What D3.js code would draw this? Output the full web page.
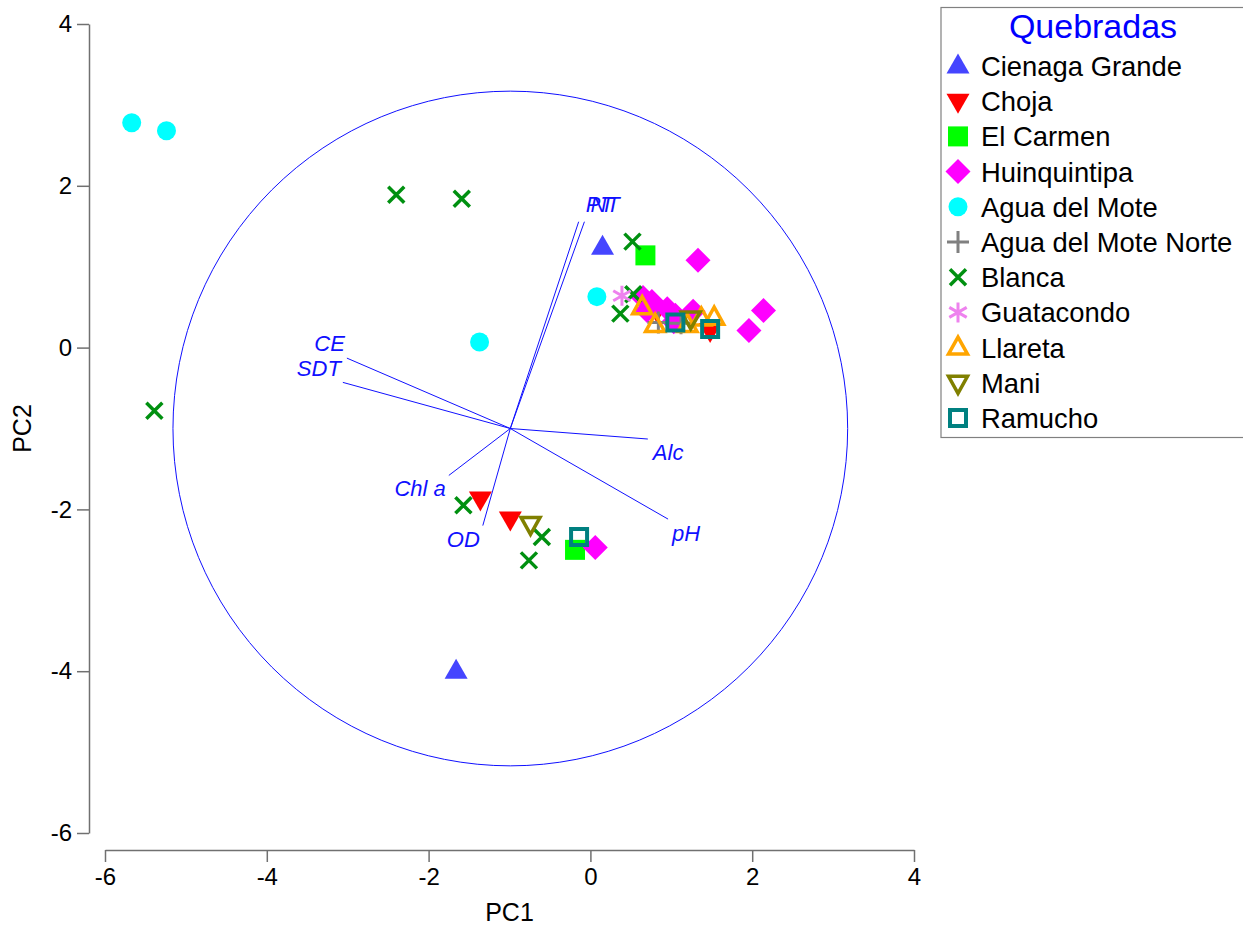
<!DOCTYPE html>
<html>
<head>
<meta charset="utf-8">
<script src="https://cdn.jsdelivr.net/npm/d3@7"></script>
<style>
  body { margin: 0; background: #fff; }
  svg { display: block; font-family: "Liberation Sans", Arial, sans-serif; }
</style>
</head>
<body>
<svg id="chart" width="1243" height="927"></svg>
<script>
// ---- Scores (PC1, PC2) per quebrada ----
const cienagaGrande = [[0.15, 1.24], [-1.66, -4.00]];
const choja = [[-1.36, -1.87], [-0.99, -2.12], [0.82, 0.46], [1.48, 0.21]];
const elCarmen = [[0.68, 1.14], [-0.19, -2.50]];
const huinquintipa = [[1.33, 1.08], [2.14, 0.46], [1.96, 0.21], [0.06, -2.47],
  [0.65, 0.62], [0.76, 0.57], [0.70, 0.46], [0.95, 0.48], [1.05, 0.40], [1.03, 0.32], [1.27, 0.45]];
const aguaDelMote = [[-5.67, 2.78], [-5.24, 2.68], [0.08, 0.63], [-1.37, 0.07]];
const aguaDelMoteNorte = [[0.84, 0.31], [1.12, 0.30]];
const blanca = [[-2.40, 1.89], [-1.59, 1.84], [-5.39, -0.78], [0.52, 1.31], [0.53, 0.66],
  [0.37, 0.42], [-1.57, -1.95], [-0.60, -2.34], [-0.76, -2.63]];
const guatacondo = [[0.39, 0.64]];
const llareta = [[0.64, 0.50], [0.80, 0.28], [1.20, 0.28], [1.37, 0.36], [1.53, 0.37]];
const mani = [[-0.74, -2.18], [1.24, 0.36]];
const ramucho = [[1.05, 0.31], [1.48, 0.23], [-0.14, -2.34]];

// ---- Variable loadings (vector tips) and the circle ----
const vectorNames = ["CE", "SDT", "Alc", "pH", "Chl a", "OD", "PT", "NT"];
const vectorTips = [[-3.01, -0.13], [-3.06, -0.43], [0.71, -1.13], [0.96, -2.12],
  [-1.75, -1.58], [-1.33, -2.20], [-0.145, 1.556], [-0.074, 1.556]];
const vectorOrigin = [-0.99, -1.0];
const circleRadius = 4.17;

// ---- Axis ticks ----
const xTicks = [-6, -4, -2, 0, 2, 4];
const yTicks = [-6, -4, -2, 0, 2, 4];

const seriesNames = ["Cienaga Grande", "Choja", "El Carmen", "Huinquintipa", "Agua del Mote",
  "Agua del Mote Norte", "Blanca", "Guatacondo", "Llareta", "Mani", "Ramucho"];
const seriesValues = [cienagaGrande, choja, elCarmen, huinquintipa, aguaDelMote,
  aguaDelMoteNorte, blanca, guatacondo, llareta, mani, ramucho];

// Marker appearance for each series
const markers = {
  "Cienaga Grande": { d: "M0,-12.5L11.5,7.5L-11.5,7.5Z", fill: "#4545ff", stroke: "none", sw: 0 },
  "Choja": { d: "M0,12.5L11.5,-7.5L-11.5,-7.5Z", fill: "#ff0000", stroke: "none", sw: 0 },
  "El Carmen": { d: "M-10,-10H10V10H-10Z", fill: "#00ff00", stroke: "none", sw: 0 },
  "Huinquintipa": { d: "M0,-12.5L12.5,0L0,12.5L-12.5,0Z", fill: "#ff00ff", stroke: "none", sw: 0 },
  "Agua del Mote": { circle: 9.5, fill: "#00ffff", stroke: "none", sw: 0 },
  "Agua del Mote Norte": { d: "M-11,0H11M0,-11V11", fill: "none", stroke: "#808080", sw: 3 },
  "Blanca": { d: "M-8,-8L8,8M8,-8L-8,8", fill: "none", stroke: "#009010", sw: 3.5 },
  "Guatacondo": { d: "M0,-10V10M-8.7,-5L8.7,5M8.7,-5L-8.7,5", fill: "none", stroke: "#ee82ee", sw: 3 },
  "Llareta": { d: "M0,-10.5L9.5,6.5L-9.5,6.5Z", fill: "none", stroke: "#ffa500", sw: 3.5 },
  "Mani": { d: "M0,10.5L9.5,-6.5L-9.5,-6.5Z", fill: "none", stroke: "#808000", sw: 3.5 },
  "Ramucho": { d: "M-8,-8H8V8H-8Z", fill: "none", stroke: "#008080", sw: 4 }
};

// Text placement of each loading label relative to its vector tip
const labelPlacement = {
  "CE": { anchor: "end", dx: -2, dy: -7 },
  "SDT": { anchor: "end", dx: -2, dy: -6 },
  "Alc": { anchor: "start", dx: 5, dy: 21 },
  "pH": { anchor: "start", dx: 4, dy: 22 },
  "Chl a": { anchor: "end", dx: -3, dy: 21 },
  "OD": { anchor: "end", dx: -3, dy: 21 },
  "PT": { anchor: "start", dx: 7, dy: -10 },
  "NT": { anchor: "start", dx: 6, dy: -10 }
};

const svg = d3.select("#chart");
const x = d3.scaleLinear().domain([-6, 4]).range([105, 914]);
const y = d3.scaleLinear().domain([-6, 4]).range([833, 24]);
const pxPerUnit = x(1) - x(0);

function drawMarker(sel, name) {
  const m = markers[name];
  if (m.circle) {
    sel.append("circle").attr("r", m.circle).attr("fill", m.fill);
  } else {
    sel.append("path").attr("d", m.d)
      .attr("fill", m.fill)
      .attr("stroke", m.stroke)
      .attr("stroke-width", m.sw)
      .attr("stroke-linejoin", "miter");
  }
}

// ---- Axes ----
const axisColor = "#707070";
const xAxis = svg.append("g").attr("transform", "translate(0,850)")
  .call(d3.axisBottom(x).tickValues(xTicks).tickSize(12).tickSizeOuter(0).tickPadding(6)
    .tickFormat(d3.format("d")));
const yAxis = svg.append("g").attr("transform", "translate(89,0)")
  .call(d3.axisLeft(y).tickValues(yTicks).tickSize(12).tickSizeOuter(0).tickPadding(5)
    .tickFormat(d3.format("d")));
[xAxis, yAxis].forEach(g => {
  g.select(".domain").attr("stroke", axisColor).attr("stroke-width", 1.5);
  g.selectAll(".tick line").attr("stroke", axisColor).attr("stroke-width", 1.5);
  g.selectAll(".tick text").attr("fill", "#000").attr("font-size", 24)
    .attr("font-family", "'Liberation Sans', Arial, sans-serif")
    .text(d => d < 0 ? "-" + Math.abs(d) : d);
});

svg.append("text").attr("x", (x(-6) + x(4)) / 2).attr("y", 921)
  .attr("text-anchor", "middle").attr("font-size", 25).text("PC1");
svg.append("text")
  .attr("transform", `translate(31,${(y(-6) + y(4)) / 2}) rotate(-90)`)
  .attr("text-anchor", "middle").attr("font-size", 25).text("PC2");

// ---- Correlation circle and loading vectors ----
const blue = "#1010ff";
svg.append("circle")
  .attr("cx", x(vectorOrigin[0])).attr("cy", y(vectorOrigin[1]))
  .attr("r", circleRadius * pxPerUnit)
  .attr("fill", "none").attr("stroke", blue).attr("stroke-width", 1);

const vec = svg.append("g");
vectorNames.forEach((name, i) => {
  const tip = vectorTips[i];
  vec.append("line")
    .attr("x1", x(vectorOrigin[0])).attr("y1", y(vectorOrigin[1]))
    .attr("x2", x(tip[0])).attr("y2", y(tip[1]))
    .attr("stroke", blue).attr("stroke-width", 1);
  const p = labelPlacement[name];
  vec.append("text")
    .attr("x", x(tip[0]) + p.dx).attr("y", y(tip[1]) + p.dy)
    .attr("text-anchor", p.anchor)
    .attr("font-size", 22).attr("font-style", "italic")
    .attr("fill", blue).text(name);
});

// ---- Sample scores ----
const pts = svg.append("g");
seriesNames.forEach((name, i) => {
  seriesValues[i].forEach(v => {
    const g = pts.append("g").attr("transform", `translate(${x(v[0])},${y(v[1])})`);
    drawMarker(g, name);
  });
});

// ---- Legend ----
const legend = svg.append("g");
legend.append("rect").attr("x", 941).attr("y", 7.5).attr("width", 320).attr("height", 430)
  .attr("fill", "#fff").attr("stroke", "#808080").attr("stroke-width", 1.2);
legend.append("text").attr("x", 1093).attr("y", 38).attr("text-anchor", "middle")
  .attr("font-size", 34).attr("fill", "#0000ff").text("Quebradas");
seriesNames.forEach((name, i) => {
  const base = 76 + i * 35.2;
  const g = legend.append("g").attr("transform", `translate(958,${base - 10})`);
  drawMarker(g, name);
  legend.append("text").attr("x", 981).attr("y", base)
    .attr("font-size", 27.4).attr("fill", "#000").text(name);
});
</script>
</body>
</html>
